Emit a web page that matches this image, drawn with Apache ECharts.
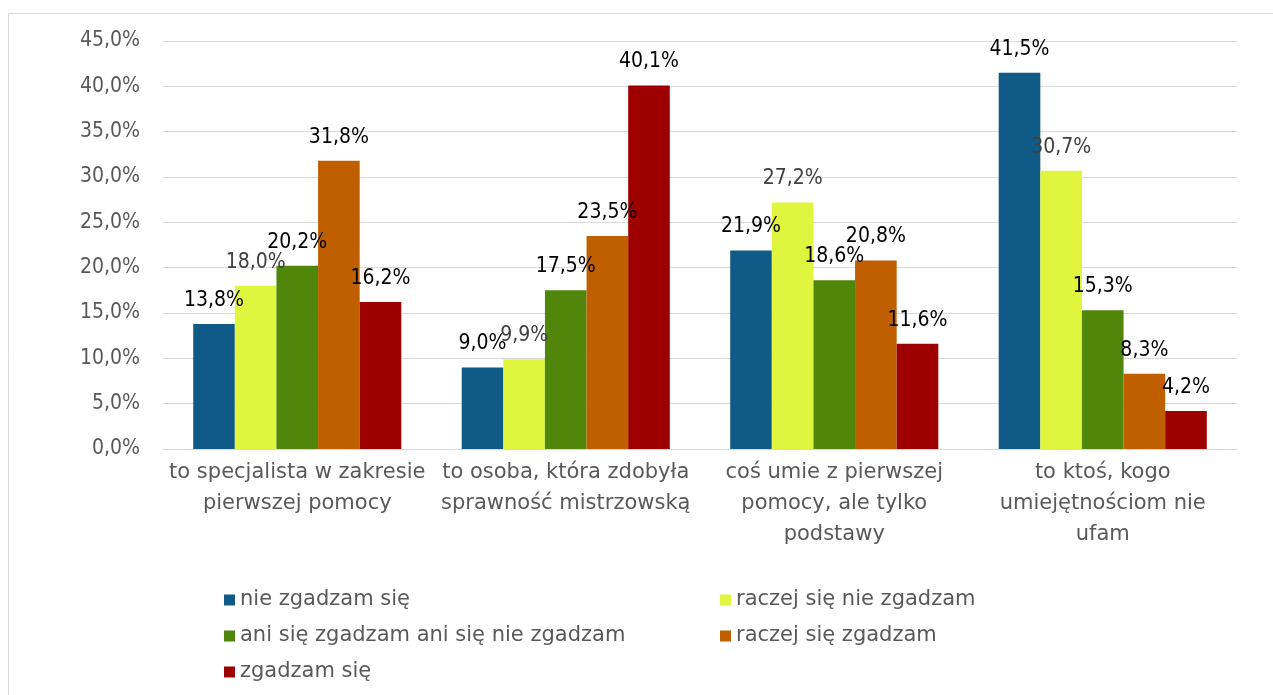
<!DOCTYPE html>
<html>
<head>
<meta charset="utf-8">
<title>chart</title>
<script src="https://cdn.jsdelivr.net/npm/echarts@6/dist/echarts.min.js"></script>
<style>
    html, body { margin: 0; padding: 0; background: #fff; }
    #chart { width: 1273px; height: 695px; }
</style>
</head>
<body>
<div id="chart"></div>
<script>
// kategorie (z ręcznym łamaniem jak w oryginale)
const categories = [
    'to specjalista w zakresie\npierwszej pomocy',
    'to osoba, która zdobyła\nsprawność mistrzowską',
    'coś umie z pierwszej\npomocy, ale tylko\npodstawy',
    'to ktoś, kogo\numiejętnościom nie\nufam'
];

const seriesNames = [
    'nie zgadzam się',
    'raczej się nie zgadzam',
    'ani się zgadzam ani się nie zgadzam',
    'raczej się zgadzam',
    'zgadzam się'
];

const nieZgadzam = [13.8, 9.0, 21.9, 41.5];
const raczejNie = [18.0, 9.9, 27.2, 30.7];
const aniAni = [20.2, 17.5, 18.6, 15.3];
const raczejTak = [31.8, 23.5, 20.8, 8.3];
const zgadzam = [16.2, 40.1, 11.6, 4.2];

const yTicks = { min: 0, max: 45, interval: 5 };

const colors = ['#0f5a87', '#dff53e', '#508609', '#c05f00', '#9e0000'];
const labelColors = ['#000', '#404040', '#000', '#000', '#000'];

const TEXT_FONT = 'DejaVu Sans';
const NUM_FONT = 'DejaVu Sans Condensed';

function pct(v) {
    return v.toFixed(1).replace('.', ',') + '%';
}

const chart = echarts.init(document.getElementById('chart'));

const values = [nieZgadzam, raczejNie, aniAni, raczejTak, zgadzam];

const series = values.map((data, i) => ({
    name: seriesNames[i],
    type: 'bar',
    barWidth: '15.5%',
    barGap: '0%',
    barCategoryGap: '23%',
    itemStyle: { color: colors[i] },
    label: {
        show: true,
        position: 'top',
        distance: 13,
        color: labelColors[i],
        fontFamily: NUM_FONT,
        fontSize: 21,
        formatter: p => pct(p.value)
    },
    data: data
}));

const legendText = { color: '#595959', fontFamily: TEXT_FONT, fontSize: 21, lineHeight: 26 };

const option = {
    animation: false,
    backgroundColor: '#fff',
    graphic: [{
        type: 'rect',
        shape: { x: 8.5, y: 13.5, width: 1300, height: 700 },
        style: { fill: 'none', stroke: '#d9d9d9', lineWidth: 1 },
        silent: true
    }],
    grid: {
        left: 163,
        right: 36,
        top: 41,
        bottom: 246
    },
    legend: [{
        orient: 'vertical',
        left: 219,
        top: 582,
        itemWidth: 11,
        itemHeight: 11,
        itemGap: 10,
        icon: 'rect',
        textStyle: legendText,
        data: [seriesNames[0], seriesNames[2], seriesNames[4]]
    }, {
        orient: 'vertical',
        left: 715,
        top: 582,
        itemWidth: 11,
        itemHeight: 11,
        itemGap: 10,
        icon: 'rect',
        textStyle: legendText,
        data: [seriesNames[1], seriesNames[3]]
    }],
    xAxis: {
        type: 'category',
        data: categories,
        axisTick: { show: false },
        axisLine: { lineStyle: { color: '#d9d9d9', width: 1 } },
        axisLabel: {
            color: '#595959',
            fontFamily: TEXT_FONT,
            fontSize: 21,
            lineHeight: 31,
            margin: 8,
            interval: 0
        }
    },
    yAxis: {
        type: 'value',
        min: yTicks.min,
        max: yTicks.max,
        interval: yTicks.interval,
        axisLine: { show: false },
        axisTick: { show: false },
        splitLine: { lineStyle: { color: '#d9d9d9', width: 1 } },
        axisLabel: {
            color: '#595959',
            fontFamily: NUM_FONT,
            fontSize: 21,
            margin: 23,
            formatter: v => pct(v)
        }
    },
    series: series
};

chart.setOption(option);
</script>
</body>
</html>
